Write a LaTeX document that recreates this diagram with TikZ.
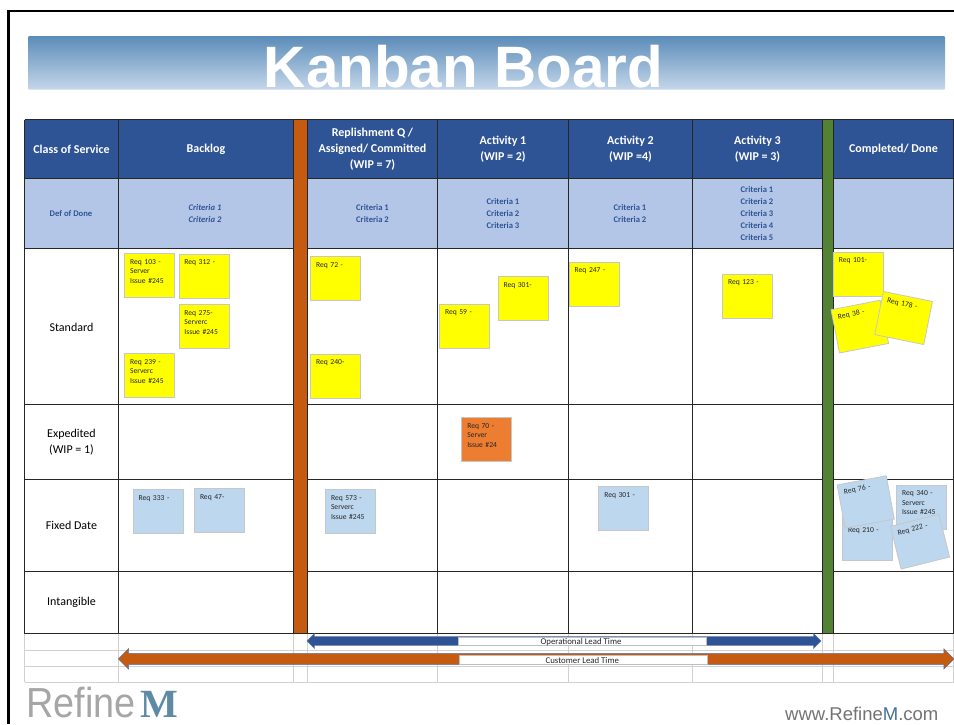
\documentclass[tikz,border=0pt]{standalone}
\usepackage{fontspec}
\setmainfont{Carlito}
\newfontfamily\logosans{Liberation Sans}
\newfontfamily\logothin[FakeStretch=0.9]{Liberation Sans}
\newfontfamily\logoserif{Liberation Serif}
\usetikzlibrary{shapes.arrows}
\definecolor{headblue}{HTML}{2F5496}
\definecolor{subblue}{HTML}{B4C6E7}
\definecolor{barorange}{HTML}{C55A11}
\definecolor{bargreen}{HTML}{548235}
\definecolor{noteyellow}{HTML}{FFFF00}
\definecolor{noteblue}{HTML}{BDD7EE}
\definecolor{noteorange}{HTML}{ED7D31}
\definecolor{logoblue}{HTML}{5F8AA6}
\definecolor{siteblue}{HTML}{41709C}
\definecolor{titletop}{HTML}{5B8CB9}
\definecolor{titlebottom}{HTML}{C5D7EA}
\tikzset{
    headcell/.style={fill=headblue,text=white,align=center,inner sep=0pt,minimum height=59pt,font=\fontsize{12}{16.2}\selectfont\bfseries},
    subcell/.style={text=headblue,align=center,font=\fontsize{8.6}{12}\selectfont\bfseries},
    rowlabel/.style={align=center,font=\fontsize{12}{16}\selectfont},
    note/.style={draw=black!22,line width=0.8pt,inner xsep=5.5pt,inner ysep=0pt,text width=39pt,text height=10.5pt,text depth=33.5pt,align=left,text=black!85,font=\fontsize{7.6}{9.5}\selectfont},
    yellownote/.style={note,fill=noteyellow},
    bluenote/.style={note,fill=noteblue},
    orangenote/.style={note,fill=noteorange},
    leadarrow/.style={double arrow,double arrow head indent=0pt,draw=headblue!80,line width=0.5pt},
    leadbox/.style={draw=black!25,fill=white,line width=0.6pt,inner sep=0pt,minimum width=248pt,minimum height=8.5pt},
    leadlabel/.style={font=\fontsize{8.8}{10}\selectfont,text=black!85,inner sep=0pt}
}
\begin{document}
\begin{tikzpicture}[x=1pt,y=-1pt]
    \useasboundingbox (0,0) rectangle (954,724);
    % frame and title
    \draw[line width=2.6pt,black] (954,11) -- (8.7,11) -- (8.7,724);
    \node (titlebar) at (486.5,62.8) [rectangle,rounded corners=1pt,top color=titletop,bottom color=titlebottom,minimum width=917pt,minimum height=53.5pt,inner sep=0pt] {};
    \node (title) at (463.5,87.5) [anchor=base,text=white,inner sep=0pt,font=\logosans\fontsize{58.4}{60}\selectfont\bfseries] {Kanban Board};

    % header row
    \node (hclass) at (71.5,149) [headcell,minimum width=94pt] {Class of Service};
    \node (hbacklog) at (206,149) [headcell,minimum width=175pt] {Backlog};
    \node (hreplen) at (372.5,149) [headcell,minimum width=130pt] {Replishment Q /\\Assigned/ Committed\\(WIP = 7)};
    \node (hact1) at (503,149) [headcell,minimum width=131pt] {Activity 1\\(WIP = 2)};
    \node (hact2) at (630.5,149) [headcell,minimum width=124pt] {Activity 2\\(WIP =4)};
    \node (hact3) at (757.5,149) [headcell,minimum width=130pt] {Activity 3\\(WIP = 3)};
    \node (hdone) at (893.5,149) [headcell,minimum width=120pt] {Completed/ Done};

    % definition of done row
    \fill[subblue] (24.5,178.5) rectangle (953,248);
    \node (dclass) at (71,213.6) [subcell] {Def of Done};
    \node (dbacklog) at (205,213.6) [subcell,font=\fontsize{8.6}{12}\selectfont\bfseries\itshape] {Criteria 1\\Criteria 2};
    \node (dreplen) at (372.5,213.6) [subcell] {Criteria 1\\Criteria 2};
    \node (dact1) at (503,213.6) [subcell] {Criteria 1\\Criteria 2\\Criteria 3};
    \node (dact2) at (630,213.6) [subcell] {Criteria 1\\Criteria 2};
    \node (dact3) at (757,213.6) [subcell] {Criteria 1\\Criteria 2\\Criteria 3\\Criteria 4\\Criteria 5};

    % grid
    \foreach \gx in {24.5,118.5,293.5,307.5,437.5,568.5,692.5,822.5,833.5,953.5}
        \draw[black!85,line width=0.8pt] (\gx,119.5) -- (\gx,633.5);
    \foreach \gy in {119.5,178.5,248,404.5,479,571.5,633.5}
        \draw[black!85,line width=0.8pt] (24.5,\gy) -- (953.5,\gy);
    \foreach \gx in {24.5,118.5,293.5,307.5,437.5,568.5,692.5,822.5,833.5,953.5}
        \draw[black!18,line width=0.8pt] (\gx,633.5) -- (\gx,682);
    \foreach \gy in {650,666,682}
        \draw[black!18,line width=0.8pt] (24.5,\gy) -- (953.5,\gy);
    \node (limit) at (300.5,376.5) [fill=barorange,draw=black!85,line width=0.8pt,minimum width=14pt,minimum height=514pt,inner sep=0pt] {};
    \node (finish) at (828,376.5) [fill=bargreen,draw=black!85,line width=0.8pt,minimum width=11pt,minimum height=514pt,inner sep=0pt] {};

    % class of service
    \node (standard) at (71.5,327) [rowlabel] {Standard};
    \node (expedited) at (71.5,442) [rowlabel] {Expedited\\(WIP = 1)};
    \node (fixed) at (71.5,525.5) [rowlabel] {Fixed Date};
    \node (intangible) at (71.5,602.5) [rowlabel] {Intangible};

    % standard notes
    \node (r103) at (149.6,275.8) [yellownote] {Req 103 -\\Server\\Issue \#245};
    \node (r312) at (203.9,276) [yellownote] {Req 312 -};
    \node (r275) at (203.9,326.8) [yellownote] {Req 275-\\Serverc\\Issue \#245};
    \node (r239) at (149.6,375.8) [yellownote] {Req 239 -\\Serverc\\Issue \#245};
    \node (r72) at (335.7,278.7) [yellownote] {Req 72 -};
    \node (r240) at (335.7,376.3) [yellownote] {Req 240-};
    \node (r59) at (464.5,326.3) [yellownote] {Req 59 -};
    \node (r301a) at (523,298.5) [yellownote] {Req 301-};
    \node (r247) at (594.2,284) [yellownote] {Req 247 -};
    \node (r123) at (747.5,296) [yellownote] {Req 123 -};
    \node (r101) at (858.3,274.3) [yellownote] {Req 101-};
    \node (r38) at (859.8,326.6) [yellownote,rotate=11] {Req 38 -};
    \node (r178) at (903.6,318) [yellownote,rotate=-11.5] {Req 178 -};

    % expedited note
    \node (r70) at (486.8,439.8) [orangenote] {Req 70 -\\Server\\Issue \#24};

    % fixed date notes
    \node (r333) at (158.2,511.8) [bluenote] {Req 333 -};
    \node (r47) at (219.5,510.5) [bluenote] {Req 47-};
    \node (r573) at (350.5,511.5) [bluenote] {Req 573 -\\Serverc\\Issue \#245};
    \node (r301b) at (623.8,508.5) [bluenote] {Req 301 -};
    \node (r210) at (867.5,538.3) [bluenote,text height=16.5pt,text depth=27.5pt] {Req 210 -};
    \node (r340) at (921.5,507) [bluenote] {Req 340 -\\Serverc\\Issue \#245};
    \node (r76) at (865.7,502) [bluenote,rotate=10.5] {Req 76 -};
    \node (r222) at (920,541.7) [bluenote,rotate=14] {Req 222 -};

    % lead times
    \node (oparrow) at (564,640.9) [leadarrow,fill=headblue,inner sep=4.1pt,minimum height=514pt,minimum width=14.3pt,double arrow head extend=3pt] {};
    \node (opbox) at (581.8,641.5) [leadbox] {};
    \node (oplabel) at (581,642) [leadlabel] {Operational Lead Time};
    \node (custarrow) at (536.2,658.9) [leadarrow,fill=barorange,inner sep=5.4pt,minimum height=835.6pt,minimum width=20pt,double arrow head extend=4.5pt] {};
    \node (custbox) at (582.8,660) [leadbox] {};
    \node (custlabel) at (582.3,660.3) [leadlabel] {Customer Lead Time};

    % logo
    \node (logo) at (26,717) [anchor=base west,inner sep=0pt,text=black!35,font=\logothin\fontsize{42}{44}\selectfont] {Refine\kern5pt{\logoserif\bfseries\fontsize{40}{44}\selectfont\textcolor{logoblue}{M}}};
    \node (site) at (785,720) [anchor=base west,inner sep=0pt,text=black!55,font=\logosans\fontsize{18.5}{20}\selectfont] {www.Refine\textcolor{siteblue}{M}.com};
\end{tikzpicture}
\end{document}
